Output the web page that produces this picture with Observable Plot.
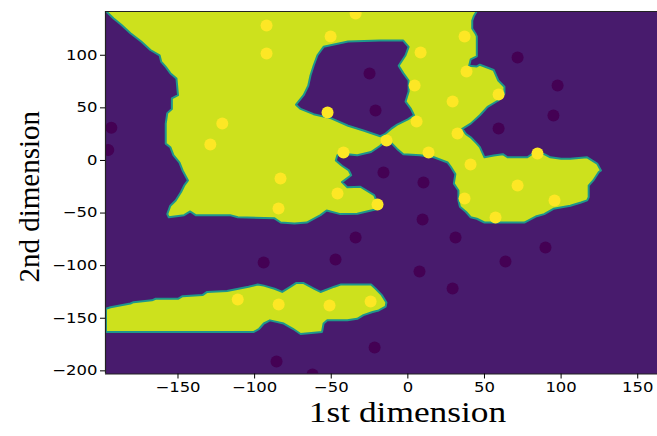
<!DOCTYPE html>
<html><head><meta charset="utf-8">
<script src="https://cdn.jsdelivr.net/npm/d3@7"></script>
<script src="https://cdn.jsdelivr.net/npm/@observablehq/plot@0.6"></script>
<style>body{margin:0;background:#fff}</style>
</head><body><div id="chart"></div>
<script>
// ---- axes ----
const xTicks = [-150, -100, -50, 0, 50, 100, 150];
const yTicks = [-200, -150, -100, -50, 0, 50, 100];
const xLabel = "1st dimension";
const yLabel = "2nd dimension";
const xDomain = [-197.3, 162.9];
const yDomain = [-203, 141.6];

// ---- class 1 samples (yellow) ----
const yellowX = [-92.2, -50.4, -34.1, -92.2, -52.4, -121.1, -128.9, -42.0, -83.1, -45.9, -84.4, -19.8,
  37.0, 8.3, 38.3, 4.4, 29.2, 59.2, 5.7, 32.4, -13.9, 13.5, 40.9, 84.6, 71.6, 37.0, 95.7, 57.2,
  -111.0, -84.3, -51.1, -24.3];
const yellowY = [128.3, 117.9, 139.7, 101.7, 45.6, 35.2, 15.2, 7.6, -17.1, -31.4, -45.6, -41.8,
  117.9, 102.7, 84.6, 71.3, 56.1, 62.7, 37.1, 25.7, 19.0, 7.6, -3.8, 6.7, -23.8, -36.1, -38.0, -54.2,
  -132.1, -136.9, -137.8, -134.0];

// ---- class 0 samples (purple) ----
const purpleX = [-25.0, -21.1, 71.6, 97.7, 95.0, 59.2, -15.9, 10.2, 9.6, -34.1, 31.1, 89.8,
  -94.1, -47.2, 63.7, 7.6, 29.2, -21.7, -85.7, -62.2, -193.5, -195.5];
const purpleY = [82.7, 47.5, 97.9, 71.3, 42.8, 30.4, -11.4, -20.9, -56.1, -73.2, -73.2, -82.7,
  -96.9, -94.1, -96.0, -105.5, -121.7, -177.8, -191.1, -203.4, 31.0, 10.0];

// ---- decision regions (vertices in data units) ----
const regionUpper = [[-197,142],[45,142],[43,137],[42,133],[42,125.5],[44,121],[45,118],[45,99],[41,96],[40,90],
  [45,89.4],[47,91],[56,86],[59,76],[63,70],[63,63.4],[59,57],[52,51],[47,43],[41,35],[35.5,30],[38,25],[41,22],
  [45,16],[47,12.6],[50,3],[56,4.8],[62,6],[65,3],[78,3],[83,8],[89,6],[93,3],[100,1.6],[106,1.6],[117,3],
  [123.5,-3],[126,-9.5],[124.6,-11],[121,-19],[118,-24],[118,-35],[117,-38],[113,-40],[106,-43],[95,-46],
  [89,-51],[84,-53],[76,-59],[50,-59],[45,-55.4],[41,-54],[38,-49],[34,-44],[33,-38],[33,-28.5],[30,-22],
  [31,-13],[28,-6],[26,-2],[17,3],[8,5],[-3,6],[-7,11],[-11,17],[-14.5,19],[-18,14],[-24,8],[-33,5],
  [-39.5,6],[-46,5],[-47,0],[-43,-5],[-38.5,-9.5],[-37,-14],[-43,-20.6],[-39.5,-25.4],[-31,-25],[-22,-33],
  [-20,-40],[-19,-46],[-24,-47.5],[-33,-50.7],[-44,-51],[-53,-47.5],[-57,-52],[-66,-59],[-74,-60],[-83,-59],
  [-87,-55],[-111,-54],[-116,-52],[-138.5,-52],[-142,-48.5],[-146,-52],[-156,-54],[-157,-51],[-155,-43],
  [-151.5,-38],[-148,-30],[-146,-24],[-143.5,-19],[-147,-9.5],[-149,-2],[-153,5],[-155,12.6],[-158,16],
  [-158,35],[-157,45],[-154,49],[-154,59],[-150,62],[-151,78],[-155,83],[-158,89],[-161,94],[-162,100],
  [-168,105],[-174,113],[-181,121],[-187,129],[-192,135]];
const regionLower = [[-197,-141],[-194,-139.5],[-181,-136],[-179,-134.7],[-167,-133],[-164.6,-131.5],
  [-150,-131.5],[-147,-129],[-134,-128],[-131,-125],[-118,-124],[-104,-120],[-98,-118],[-94,-119],[-87,-122],
  [-82,-125],[-76.5,-120],[-73,-116.6],[-68,-116.6],[-61,-122],[-57,-125],[-48,-120],[-44,-118],[-24,-118],
  [-21,-122],[-17,-128],[-14,-135],[-14.5,-139],[-19,-142.6],[-23,-144],[-29,-147],[-33,-150.5],[-39.5,-152],
  [-52.6,-152],[-55,-155],[-56,-163],[-70,-165],[-75,-160],[-81,-155],[-90,-152],[-94,-155],[-97,-160],
  [-100.5,-163],[-197,-163]];
const holeCenter = [[-55,108],[-39,113],[-18,114],[-3,114],[0.5,108],[-1.5,100],[-6,90],[-3,83],[0.5,76],
  [0.5,65.6],[-1.5,56],[2,49],[4,43],[0,39],[-7,34],[-11,30],[-15,25],[-18,23],[-29,28.5],[-39,33],[-50,40],
  [-61.5,44],[-70,49],[-73,53],[-68,62],[-65,71],[-63.5,81],[-61.5,90],[-59,100]];

const COLOR_BG = "#481b6d";
const COLOR_REGION = "#cde11d";
const COLOR_EDGE = "#1f978b";
const COLOR_Y = "#fde725";
const COLOR_P = "#440154";

const toRows = (id, pts) => pts.map(([x, y]) => ({id, x, y}));
const yellowRows = [...toRows("upper", regionUpper), ...toRows("lower", regionLower)];
const holeRows = toRows("hole", holeCenter);
const yellowPts = yellowX.map((x, i) => ({x, y: yellowY[i]}));
const purplePts = purpleX.map((x, i) => ({x, y: purpleY[i]}));

const chart = Plot.plot({
  width: 657, height: 436,
  marginLeft: 105, marginRight: 0, marginTop: 11, marginBottom: 62.5,
  style: {fontFamily: "DejaVu Sans", fontSize: "13.5px", background: "white", color: "black", overflow: "visible"},
  x: {domain: xDomain},
  y: {domain: yDomain},
  marks: [
    Plot.frame({fill: COLOR_BG, stroke: null}),
    Plot.line(yellowRows, {x: "x", y: "y", z: "id", fill: COLOR_REGION, stroke: COLOR_EDGE, strokeWidth: 2, curve: "linear-closed", clip: true}),
    Plot.line(holeRows, {x: "x", y: "y", z: "id", fill: COLOR_BG, stroke: COLOR_EDGE, strokeWidth: 2, curve: "linear-closed", clip: true}),
    Plot.dot(purplePts, {x: "x", y: "y", r: 6, fill: COLOR_P, stroke: null, clip: true}),
    Plot.dot(yellowPts, {x: "x", y: "y", r: 6, fill: COLOR_Y, stroke: null, clip: true}),
    Plot.ruleX([xDomain[0]], {stroke: "#222", strokeWidth: 1.2}),
    Plot.ruleY([yDomain[0], yDomain[1]], {stroke: "#222", strokeWidth: 1.2}),
    Plot.axisX({ticks: xTicks, tickSize: 5, tickPadding: 3, fontSize: 13.5, label: null}),
    Plot.axisY({ticks: yTicks, tickSize: 5, tickPadding: 3, fontSize: 13.5, label: null}),
    Plot.text([xLabel], {frameAnchor: "bottom", lineAnchor: "bottom", textAnchor: "middle", dx: 26, dy: 48, fontSize: 29, fontFamily: "Liberation Serif", fill: "black"}),
    Plot.text([yLabel], {frameAnchor: "left", lineAnchor: "bottom", textAnchor: "middle", dx: -67, dy: 4, rotate: -90, fontSize: 29, fontFamily: "Liberation Serif", fill: "black"})
  ]
});
document.getElementById("chart").appendChild(chart);

// the reference picture is stretched horizontally: widen the horizontal texts the same way
chart.querySelectorAll("text").forEach(t => {
  if (t.textContent === yLabel) return;
  const ax = parseFloat(t.getAttribute("x")) || 0;
  const tr = t.getAttribute("transform") || "";
  t.setAttribute("transform", `${tr} translate(${ax},0) scale(1.22,1) translate(${-ax},0)`);
});
</script>
</body></html>
